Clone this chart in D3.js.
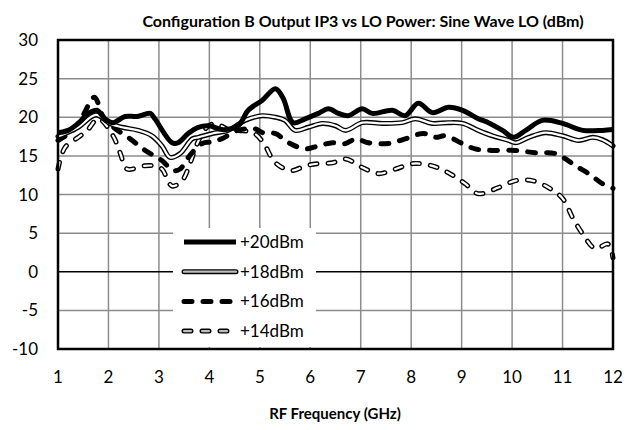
<!DOCTYPE html>
<html>
<head>
<meta charset="utf-8">
<script src="https://cdn.jsdelivr.net/npm/d3@7"></script>
<style>
  body { margin: 0; background: #fff; }
  svg { font-family: Lato, "Open Sans", sans-serif; }
</style>
</head>
<body>
<div id="chart"></div>
<script>
// Output IP3 (dBm) vs RF frequency (GHz), one pair of arrays per LO power
const freq20 = [1.0, 1.2, 1.4, 1.6, 1.77, 1.93, 2.09, 2.33, 2.57, 2.83, 2.92, 3.26, 3.38, 3.58, 3.78, 4.0, 4.25, 4.57, 4.77, 5.05, 5.31, 5.46, 5.66, 5.9, 6.16, 6.36, 6.56, 6.75, 7.03, 7.23, 7.63, 7.88, 8.14, 8.42, 8.74, 9.02, 9.33, 9.53, 9.81, 10.03, 10.27, 10.6, 11.0, 11.4, 11.79, 12.0];
const ip3_20 = [18.0, 18.3, 19.2, 20.5, 20.9, 19.8, 19.3, 20.1, 20.1, 20.5, 19.8, 16.7, 16.7, 17.9, 18.7, 18.9, 18.4, 18.9, 20.9, 22.2, 23.7, 22.5, 19.3, 19.8, 20.5, 21.1, 20.5, 20.2, 21.1, 20.5, 20.9, 20.2, 21.8, 20.6, 21.3, 20.9, 19.8, 19.3, 18.3, 17.4, 18.3, 19.6, 19.2, 18.3, 18.3, 18.4];

const freq18 = [1.0, 1.4, 1.75, 2.03, 2.27, 2.59, 2.86, 3.06, 3.22, 3.42, 3.66, 3.78, 4.06, 4.37, 4.71, 5.05, 5.31, 5.5, 5.7, 5.96, 6.24, 6.5, 6.7, 7.03, 7.43, 7.82, 8.08, 8.42, 8.74, 9.02, 9.33, 9.61, 9.93, 10.07, 10.33, 10.66, 11.0, 11.32, 11.6, 11.79, 12.0];
const ip3_18 = [17.5, 18.7, 20.3, 19.2, 18.7, 18.3, 17.6, 16.3, 14.8, 15.3, 17.2, 17.4, 17.9, 18.3, 19.6, 20.2, 20.0, 19.6, 18.3, 18.7, 19.2, 18.9, 18.3, 19.3, 19.2, 19.3, 19.8, 19.2, 19.3, 19.2, 18.3, 17.6, 17.0, 16.7, 17.4, 18.0, 17.6, 17.0, 17.4, 17.1, 16.3];

const freq16 = [1.0, 1.3, 1.5, 1.72, 1.9, 2.1, 2.43, 2.73, 3.06, 3.28, 3.42, 3.58, 3.86, 4.03, 4.24, 4.56, 4.9, 5.06, 5.3, 5.6, 5.9, 6.16, 6.44, 6.7, 6.9, 7.15, 7.55, 7.88, 8.24, 8.48, 8.68, 8.98, 9.27, 9.6, 10.07, 10.46, 10.86, 11.06, 11.26, 11.52, 11.79, 12.0];
const ip3_16 = [17.0, 18.3, 20.3, 22.6, 20.0, 18.7, 17.2, 15.7, 14.4, 13.1, 13.3, 14.8, 16.6, 16.8, 17.2, 18.3, 18.5, 18.0, 17.9, 16.6, 15.9, 16.3, 16.7, 16.6, 17.2, 16.7, 16.6, 17.2, 17.9, 17.4, 17.6, 16.7, 15.9, 15.7, 15.7, 15.4, 15.3, 14.6, 13.7, 12.7, 11.4, 10.8];

const freq14 = [1.0, 1.14, 1.4, 1.58, 1.8, 2.09, 2.23, 2.37, 2.69, 2.92, 3.06, 3.26, 3.46, 3.62, 3.76, 3.92, 4.11, 4.35, 4.57, 4.87, 5.07, 5.27, 5.44, 5.64, 5.9, 6.16, 6.44, 6.7, 7.03, 7.35, 7.69, 8.04, 8.42, 8.74, 9.07, 9.33, 9.73, 10.07, 10.4, 10.72, 11.0, 11.2, 11.4, 11.65, 11.9, 12.0];
const ip3_14 = [13.3, 16.1, 17.4, 18.3, 19.8, 17.6, 15.4, 13.3, 13.7, 13.7, 13.3, 11.1, 11.8, 14.1, 16.6, 18.5, 19.2, 18.5, 18.3, 18.0, 16.7, 14.4, 13.5, 13.1, 13.7, 14.0, 14.1, 14.6, 13.5, 12.7, 13.3, 14.0, 13.7, 12.8, 11.4, 10.1, 10.9, 11.8, 11.8, 10.9, 9.5, 7.0, 4.9, 3.0, 3.6, 1.8];

const xTicks = [1, 2, 3, 4, 5, 6, 7, 8, 9, 10, 11, 12];
const yTicks = [-10, -5, 0, 5, 10, 15, 20, 25, 30];
const seriesNames = ['+20dBm', '+18dBm', '+16dBm', '+14dBm'];

const series = [
  { name: seriesNames[0], xs: freq20, ys: ip3_20 },
  { name: seriesNames[1], xs: freq18, ys: ip3_18 },
  { name: seriesNames[2], xs: freq16, ys: ip3_16 },
  { name: seriesNames[3], xs: freq14, ys: ip3_14 }
];

const width = 638, height = 430;
const plotL = 58, plotR = 613, plotT = 40, plotB = 349;

const svg = d3.select('#chart').append('svg')
  .attr('width', width)
  .attr('height', height);

const x = d3.scaleLinear().domain([1, 12]).range([plotL, plotR]);
const y = d3.scaleLinear().domain([-10, 30]).range([plotB, plotT]);

// grid
svg.append('g')
  .selectAll('line')
  .data(xTicks.slice(1, -1))
  .enter().append('line')
  .attr('x1', d => x(d)).attr('x2', d => x(d))
  .attr('y1', plotT).attr('y2', plotB)
  .style('stroke', '#8c8c8c').style('stroke-width', 1.5);

svg.append('g')
  .selectAll('line')
  .data(yTicks.filter(d => d !== 0 && d !== -10 && d !== 30))
  .enter().append('line')
  .attr('x1', plotL).attr('x2', plotR)
  .attr('y1', d => y(d)).attr('y2', d => y(d))
  .style('stroke', '#8c8c8c').style('stroke-width', 1.5);

// zero line
svg.append('line')
  .attr('x1', plotL).attr('x2', plotR)
  .attr('y1', y(0)).attr('y2', y(0))
  .style('stroke', '#000').style('stroke-width', 1.5);

const line = d3.line()
  .x(d => x(d[0]))
  .y(d => y(d[1]))
  .curve(d3.curveCatmullRom.alpha(0.5));

const pts = s => s.xs.map((f, i) => [f, s.ys[i]]);
const plot = svg.append('g');

function drawStyle(g, name, path, inner) {
  if (name === '+20dBm') {
    g.append('path').attr('d', path).style('fill', 'none')
      .style('stroke', '#000').style('stroke-width', 5).style('stroke-linejoin', 'round');
  } else if (name === '+18dBm') {
    g.append('path').attr('d', path).style('fill', 'none')
      .style('stroke', '#000').style('stroke-width', 5).style('stroke-linejoin', 'round')
      .style('stroke-linecap', 'round');
    g.append('path').attr('d', path).style('fill', 'none')
      .style('stroke', inner).style('stroke-width', 2.2).style('stroke-linejoin', 'round')
      .style('stroke-linecap', 'round');
  } else if (name === '+16dBm') {
    g.append('path').attr('d', path).style('fill', 'none')
      .style('stroke', '#000').style('stroke-width', 5)
      .style('stroke-linecap', 'round').style('stroke-dasharray', '8,11');
  } else {
    g.append('path').attr('d', path).style('fill', 'none')
      .style('stroke', '#000').style('stroke-width', 5)
      .style('stroke-linecap', 'round').style('stroke-dasharray', '7,11');
    g.append('path').attr('d', path).style('fill', 'none')
      .style('stroke', inner).style('stroke-width', 2.2)
      .style('stroke-linecap', 'round').style('stroke-dasharray', '7,11');
  }
}

// draw back to front
series.slice().reverse().forEach(s => {
  drawStyle(plot, s.name, line(pts(s)), '#fff');
});

// legend box
const lg = svg.append('g');
lg.append('rect')
  .attr('x', 173).attr('y', 228)
  .attr('width', 143).attr('height', 119)
  .style('fill', '#fff');

series.forEach((s, i) => {
  const ly = 242 + i * 29.7;
  drawStyle(lg, s.name, `M184,${ly}L236,${ly}`, '#bdbdbd');
  lg.append('text')
    .attr('x', 240).attr('y', ly + 6)
    .style('font-size', '17px')
    .style('fill', '#000')
    .text(s.name);
});

// frame
svg.append('rect')
  .attr('x', plotL).attr('y', plotT)
  .attr('width', plotR - plotL).attr('height', plotB - plotT)
  .style('fill', 'none').style('stroke', '#000').style('stroke-width', 2.5);

// axis labels
svg.append('g')
  .selectAll('text')
  .data(yTicks)
  .enter().append('text')
  .attr('x', 38)
  .attr('y', d => y(d) + 6)
  .attr('text-anchor', 'end')
  .style('font-size', '17px')
  .text(d => d);

svg.append('g')
  .selectAll('text')
  .data(xTicks)
  .enter().append('text')
  .attr('x', d => x(d))
  .attr('y', 383)
  .attr('text-anchor', 'middle')
  .style('font-size', '17px')
  .text(d => d);

svg.append('text')
  .attr('x', 363)
  .attr('y', 27)
  .attr('text-anchor', 'middle')
  .style('font-size', '16px')
  .style('font-weight', 'bold')
  .text('Configuration B Output IP3 vs LO Power: Sine Wave LO (dBm)');

svg.append('text')
  .attr('x', 335)
  .attr('y', 419)
  .attr('text-anchor', 'middle')
  .style('font-size', '15px')
  .style('font-weight', 'bold')
  .text('RF Frequency (GHz)');
</script>
</body>
</html>
